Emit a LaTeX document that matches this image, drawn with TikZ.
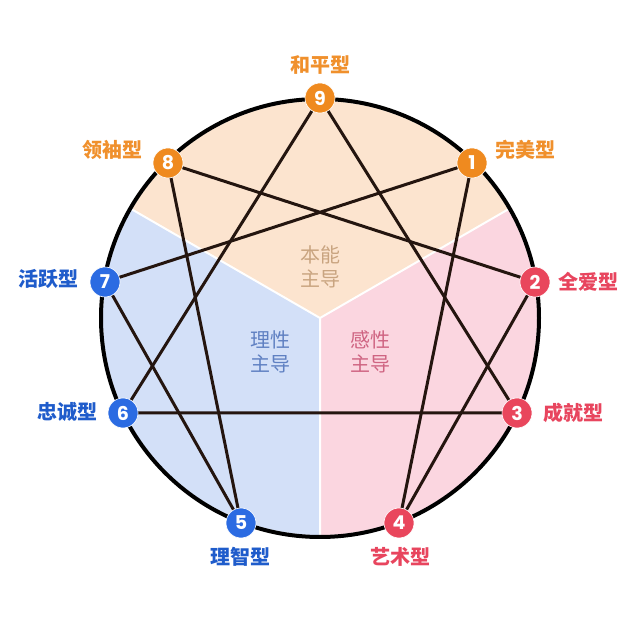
\documentclass[tikz,border=0pt]{standalone}
\usepackage{fontspec}
\usetikzlibrary{calc}
\newfontfamily\cjk{Noto Sans CJK SC}
\newfontfamily\numfont{Poppins}
\definecolor{beige}{HTML}{FCE4CF}
\definecolor{lblue}{HTML}{D3E0F8}
\definecolor{lpink}{HTML}{FBD6E0}
\definecolor{corange}{HTML}{EF8A1F}
\definecolor{cblue}{HTML}{2B6BE2}
\definecolor{cred}{HTML}{E9465C}
\definecolor{torange}{HTML}{F0902C}
\definecolor{tblue}{HTML}{1F5CCB}
\definecolor{tred}{HTML}{E8455E}
\definecolor{ctan}{HTML}{C9A480}
\definecolor{cblue2}{HTML}{5F80C2}
\definecolor{cpink2}{HTML}{CF6482}
\definecolor{linec}{HTML}{24150F}
\tikzset{
  badge/.style={circle, fill=#1, draw=white, line width=0.6pt, minimum size=30pt, inner sep=0pt,
    text=white, font=\numfont\bfseries\fontsize{19}{19}\selectfont},
  lbl/.style={text=#1, font=\cjk\bfseries\fontsize{20}{20}\selectfont, inner sep=0pt},
  ctr/.style={text=#1, font=\cjk\fontsize{20}{24}\selectfont, align=center, inner sep=0pt},
  conn/.style={draw=linec, line width=3pt},
}
\begin{document}
\begin{tikzpicture}[x=1pt,y=1pt]
\useasboundingbox (0,0) rectangle (640,640);
\fill[white] (0,0) rectangle (640,640);
\coordinate (C) at (320,322);
\fill[beige] (C) -- ++(30:217) arc[start angle=30,end angle=150,radius=217] -- cycle;
\fill[lblue] (C) -- ++(150:217) arc[start angle=150,end angle=270,radius=217] -- cycle;
\fill[lpink] (C) -- ++(270:217) arc[start angle=270,end angle=390,radius=217] -- cycle;
\coordinate (s1) at ($(C)+(30:217)$);
\coordinate (s2) at ($(C)+(150:217)$);
\coordinate (s3) at ($(C)+(270:217)$);
\draw[white, line width=2pt] (C) -- (s1) (C) -- (s2) (C) -- (s3);
\draw[black, line width=4pt] (C) circle[radius=219];
% points
\coordinate (p9) at (320,542);
\coordinate (p1) at (472,477);
\coordinate (p8) at (168,477);
\coordinate (p2) at (535,358);
\coordinate (p7) at (105,358);
\coordinate (p3) at (517,227);
\coordinate (p6) at (123,227);
\coordinate (p4) at (399,117);
\coordinate (p5) at (241,117);
% connectors
\draw[conn] (p9) -- (p3) -- (p6) -- cycle;
\draw[conn] (p1) -- (p4) -- (p2) -- (p8) -- (p5) -- (p7) -- cycle;
% badges
\node[badge=corange] (n9) at (p9) {9};
\node[badge=corange] (n1) at (p1) {1};
\node[badge=corange] (n8) at (p8) {8};
\node[badge=cred] (n2) at (p2) {2};
\node[badge=cred] (n3) at (p3) {3};
\node[badge=cred] (n4) at (p4) {4};
\node[badge=cblue] (n7) at (p7) {7};
\node[badge=cblue] (n6) at (p6) {6};
\node[badge=cblue] (n5) at (p5) {5};
% labels
\node[lbl=torange] (l9) at (320,575) {和平型};
\node[lbl=torange] (l8) at (112,490) {领袖型};
\node[lbl=torange] (l1) at (525,490) {完美型};
\node[lbl=tblue] (l7) at (48,361) {活跃型};
\node[lbl=tred] (l2) at (588,358) {全爱型};
\node[lbl=tblue] (l6) at (67,228) {忠诚型};
\node[lbl=tred] (l3) at (573,227) {成就型};
\node[lbl=tblue] (l5) at (240,83) {理智型};
\node[lbl=tred] (l4) at (400,83) {艺术型};
% center texts
\node[ctr=ctan] (c1) at (320,373) {本能\\主导};
\node[ctr=cblue2] (c2) at (270,288) {理性\\主导};
\node[ctr=cpink2] (c3) at (370,288) {感性\\主导};
\end{tikzpicture}
\end{document}
